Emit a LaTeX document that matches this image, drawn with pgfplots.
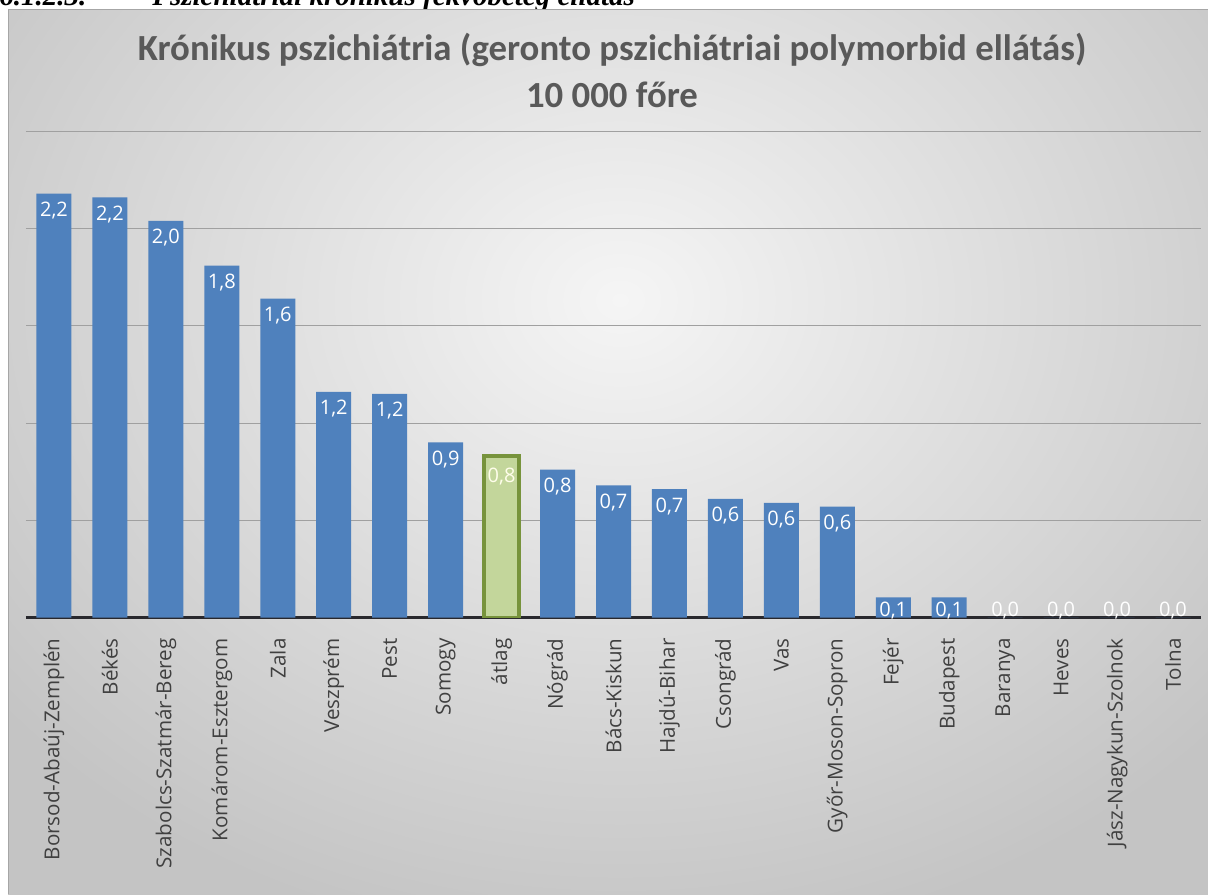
\documentclass[border=0pt]{standalone}
\usepackage{pgfplots}
\pgfplotsset{compat=1.18}
\usepackage{fontspec}
\setmainfont{Open Sans}
\newfontfamily\titlefont{Carlito}
\newfontfamily\headfont{Liberation Serif}
\definecolor{barblue}{RGB}{79,129,189}
\definecolor{avgfill}{RGB}{195,214,155}
\definecolor{avgdraw}{RGB}{119,147,60}
\definecolor{titlegray}{RGB}{89,89,89}
\definecolor{labelgray}{RGB}{64,64,64}
\definecolor{gridgray}{RGB}{160,160,160}
\definecolor{basecol}{RGB}{40,40,45}
\definecolor{bginner}{RGB}{245,245,245}
\definecolor{bgouter}{RGB}{196,196,196}
\begin{document}
\begin{tikzpicture}
\begin{scope}[x=0.5pt,y=-0.5pt]
\useasboundingbox (0,0) rectangle (1208,894);
\node[anchor=base west, inner sep=0pt, font=\headfont\bfseries\itshape\fontsize{14.5}{16}\selectfont] at (-1,5) {6.1.2.3.};
\node[anchor=base west, inner sep=0pt, font=\headfont\bfseries\itshape\fontsize{14.5}{16}\selectfont] at (152,5) {Pszichiátriai krónikus fekvőbeteg ellátás};
\begin{scope}
\clip (8,9) rectangle (1208,894);
\shade[inner color=bginner, outer color=bgouter] (-180,-350) rectangle (1420,950);
\end{scope}
\draw[gray!70, line width=0.5pt] (8,894) -- (8,9) -- (1208,9);
\node[font=\titlefont\bfseries\fontsize{18.4}{22}\selectfont, text=titlegray, anchor=base, inner sep=0pt] at (612,60) {Krónikus pszichiátria (geronto pszichiátriai polymorbid ellátás)};
\node[font=\titlefont\bfseries\fontsize{18.4}{22}\selectfont, text=titlegray, anchor=base, inner sep=0pt] at (612,107) {10 000 főre};
\end{scope}
\begin{axis}[
  at={(13pt,-308.75pt)}, anchor=south west,
  scale only axis, width=587.5pt, height=243.1pt,
  xmin=-0.5, xmax=20.5, ymin=0, ymax=2.5,
  axis x line*=bottom, axis y line*=left,
  x axis line style={line width=1.5pt, color=basecol},
  y axis line style={draw=none},
  ytick={0.5,1,1.5,2,2.5}, yticklabels={},
  ymajorgrids, grid style={gridgray, line width=0.5pt},
  major tick length=0pt,
  xtick={0,...,20},
  xticklabels={Borsod-Abaúj-Zemplén,Békés,Szabolcs-Szatmár-Bereg,Komárom-Esztergom,Zala,Veszprém,Pest,Somogy,átlag,Nógrád,Bács-Kiskun,Hajdú-Bihar,Csongrád,Vas,Győr-Moson-Sopron,Fejér,Budapest,Baranya,Heves,Jász-Nagykun-Szolnok,Tolna},
  xticklabel style={rotate=90, anchor=east, inner sep=0pt, font=\fontsize{10.3}{12}\selectfont, text=labelgray},
  xticklabel shift=10.25pt,
  ybar, bar width=17.5pt, bar shift=0pt,
  nodes near coords,
  nodes near coords style={font=\fontsize{10}{12}\selectfont, text=white, inner sep=0pt,
    /pgf/number format/fixed, /pgf/number format/fixed zerofill, /pgf/number format/precision=1,
    /pgf/number format/use comma, /pgf/number format/assume math mode=true},
]
\addplot[fill=barblue, draw=none, every node near coord/.append style={anchor=north, yshift=-4pt}]
  coordinates {(0,2.18) (1,2.16) (2,2.04) (3,1.81) (4,1.64) (5,1.16) (6,1.15) (7,0.90)
               (9,0.76) (10,0.68) (11,0.66) (12,0.61) (13,0.59) (14,0.57)};
\addplot[fill=avgfill, draw=avgdraw, line width=2pt, every node near coord/.append style={anchor=north, yshift=-5pt, text=white!92!yellow}]
  coordinates {(8,0.83)};
\addplot[fill=barblue, draw=none, every node near coord/.append style={anchor=north, yshift=-2.2pt}]
  coordinates {(15,0.104) (16,0.104)};
\addplot[fill=barblue, draw=none, every node near coord/.append style={anchor=north, yshift=7.9pt}]
  coordinates {(17,0) (18,0) (19,0) (20,0)};
\end{axis}
\end{tikzpicture}
\end{document}
